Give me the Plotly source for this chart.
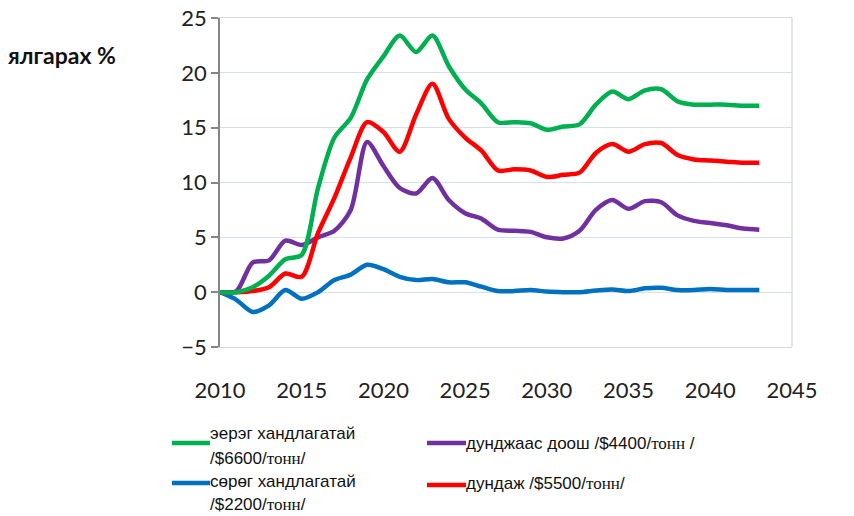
import plotly.graph_objects as go

# он
years = list(range(2010, 2044))

# ялгарах %, хувилбар бүрээр
positive = [0, 0, 0.45, 1.5, 3.0, 3.4, 9.5, 14.1, 15.9, 19.4, 21.5, 23.4, 21.9, 23.4, 20.6, 18.5, 17.2,
            15.5, 15.5, 15.4, 14.8, 15.1, 15.3, 17.1, 18.3, 17.6, 18.4, 18.5, 17.4, 17.1, 17.1, 17.1, 17.0, 17.0]
average = [0, 0, 0.1, 0.45, 1.7, 1.4, 5.4, 8.6, 12.3, 15.5, 14.6, 12.8, 16.2, 19.0, 15.8, 14.1, 12.9,
           11.1, 11.2, 11.1, 10.5, 10.7, 10.9, 12.7, 13.5, 12.8, 13.5, 13.6, 12.5, 12.1, 12.0, 11.9, 11.8, 11.8]
below_avg = [0, 0.1, 2.7, 2.9, 4.7, 4.3, 5.0, 5.6, 7.5, 13.7, 11.5, 9.5, 9.0, 10.4, 8.4, 7.2, 6.7,
             5.7, 5.6, 5.5, 5.0, 4.9, 5.6, 7.5, 8.4, 7.6, 8.3, 8.2, 7.0, 6.5, 6.3, 6.1, 5.8, 5.7]
negative = [0, -0.7, -1.8, -1.2, 0.2, -0.6, 0.0, 1.1, 1.6, 2.5, 2.1, 1.4, 1.1, 1.2, 0.9, 0.9, 0.5,
            0.1, 0.1, 0.2, 0.05, 0.0, 0.0, 0.15, 0.25, 0.1, 0.35, 0.4, 0.2, 0.2, 0.3, 0.2, 0.2, 0.2]

fig = go.Figure()

series = [
    (negative, '#0070C0'),
    (below_avg, '#7030A0'),
    (average, '#FF0000'),
    (positive, '#00B050'),
]
for vals, col in series:
    fig.add_trace(go.Scatter(x=years, y=vals, mode='lines',
                             line=dict(color=col, width=4.5, shape='spline', smoothing=0.8),
                             showlegend=False, hoverinfo='skip'))

# хуудасны пиксел (body-ийн 8px захыг тооцсон)
OFF = 8
W, H = 854 - OFF, 516 - OFF
L, R, T, B = 220, 792, 18, 347
def px(x):
    return (x - L) / (R - L)
def py(y):
    return (B - y) / (B - T)

fig.update_layout(
    width=W, height=H,
    margin=dict(l=L - OFF, r=W - (R - OFF), t=T - OFF, b=H - (B - OFF), autoexpand=False),
    paper_bgcolor='white', plot_bgcolor='white',
    font=dict(family='Lato', size=22, color='#222222'),
    xaxis=dict(range=[2010, 2045], dtick=5, tick0=2010, showgrid=False, zeroline=False,
               showline=True, linecolor='#D9D9D9', linewidth=1, mirror=True, automargin=False,
               ticks='', ticklabelstandoff=24, ticklabeloverflow='allow',
               tickfont=dict(family='Lato', size=22)),
    xaxis2=dict(range=[2010, 2045], dtick=5, tick0=2010, overlaying='x', anchor='free',
                position=1 / 6, showline=True, linecolor='#868686', linewidth=1.5,
                ticks='outside', ticklen=7, tickcolor='#868686', tickwidth=1.5, automargin=False,
                showticklabels=False, showgrid=False, zeroline=False),
    yaxis=dict(range=[-5, 25], dtick=5, showgrid=True, gridcolor='#D6E0F0', gridwidth=1.3,
               zeroline=False, showline=True, linecolor='#868686', linewidth=1.5, automargin=False,
               ticks='outside', ticklen=7, tickcolor='#868686', tickwidth=1.5,
               ticklabeloverflow='allow', tickfont=dict(family='Lato', size=22)),
)

# баруун хүрээ
fig.add_shape(type='line', xref='paper', yref='paper', x0=1, x1=1, y0=0, y1=1,
              line=dict(color='#D9D9D9', width=1.3))

# y тэнхлэгийн гарчиг
fig.add_annotation(text='<b>ялгарах %</b>', xref='paper', yref='paper', x=px(6), y=py(55),
                   xanchor='left', yanchor='middle', showarrow=False,
                   font=dict(family='Lato', size=23, color='#111111'))

# тайлбар
tn = '<span style="font-family:Liberation Serif">тонн</span>'
legend_items = [
    ('#00B050', 172, 210, 443, [('эерэг хандлагатай', 433), ('/$6600/' + tn + '/', 458)]),
    ('#0070C0', 172, 210, 483, [('сөрөг хандлагатай', 481), ('/$2200/' + tn + '/', 505)]),
    ('#7030A0', 427, 466, 443, [('дунджаас доош /$4400/' + tn + ' /', 443)]),
    ('#FF0000', 427, 466, 485, [('дундаж /$5500/' + tn + '/', 483)]),
]
for col, x0, x1, ly, lines in legend_items:
    fig.add_shape(type='line', xref='paper', yref='paper', x0=px(x0), x1=px(x1), y0=py(ly), y1=py(ly),
                  line=dict(color=col, width=4.5))
    for txt, ty in lines:
        fig.add_annotation(text=txt, xref='paper', yref='paper', x=px(x1 - 2), y=py(ty),
                           xanchor='left', yanchor='middle', showarrow=False,
                           font=dict(family='Liberation Sans', size=17, color='#111111'))

fig.write_html('out.html')
